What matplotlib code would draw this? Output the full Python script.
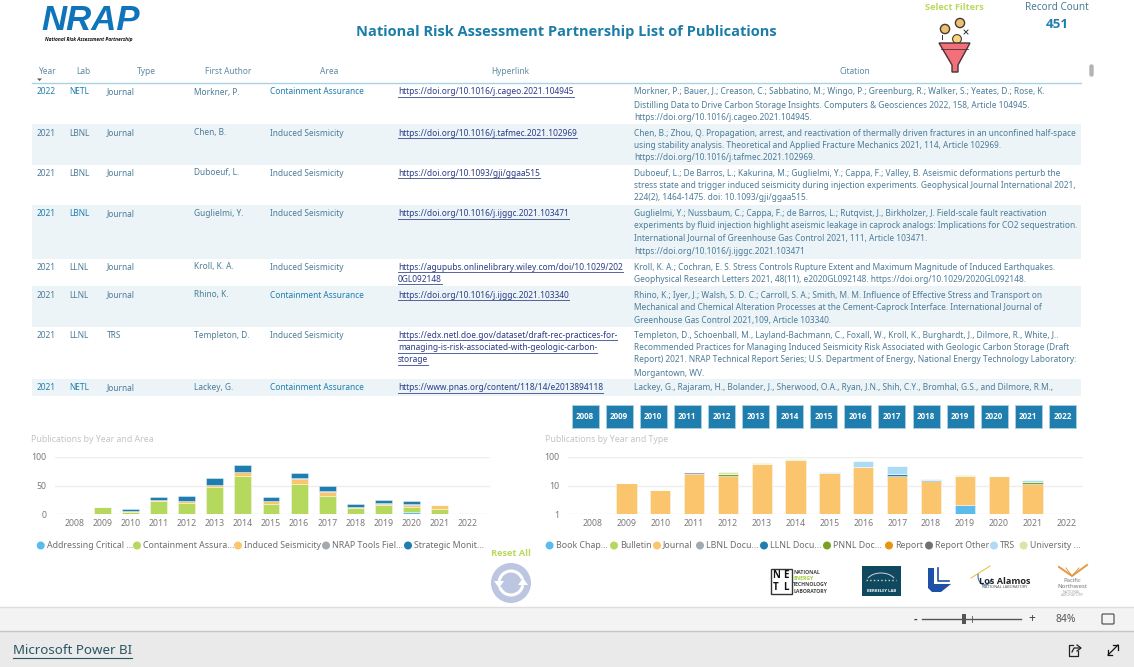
import numpy as np
import matplotlib
matplotlib.use("Agg")
import matplotlib.pyplot as plt
from matplotlib.patches import Rectangle, Circle, Polygon, FancyBboxPatch, Arc

W = 1134
H = 667
plt.rcParams['font.family'] = ['Noto Sans', 'DejaVu Sans']

# table contents
headers = ["Year", "Lab", "Type", "First Author", "Area", "Hyperlink", "Citation"]
years_col = ["2022", "2021", "2021", "2021", "2021", "2021", "2021", "2021"]
labs = ["NETL", "LBNL", "LBNL", "LBNL", "LLNL", "LLNL", "LLNL", "NETL"]
types = ["Journal", "Journal", "Journal", "Journal", "Journal", "Journal", "TRS", "Journal"]
authors = ["Morkner, P.", "Chen, B.", "Duboeuf, L.", "Guglielmi, Y.", "Kroll, K. A.",
           "Rhino, K.", "Templeton, D.", "Lackey, G."]
areas = ["Containment Assurance", "Induced Seismicity", "Induced Seismicity", "Induced Seismicity",
         "Induced Seismicity", "Containment Assurance", "Induced Seismicity", "Containment Assurance"]
links = [
    ["https://doi.org/10.1016/j.cageo.2021.104945"],
    ["https://doi.org/10.1016/j.tafmec.2021.102969"],
    ["https://doi.org/10.1093/gji/ggaa515"],
    ["https://doi.org/10.1016/j.ijggc.2021.103471"],
    ["https://agupubs.onlinelibrary.wiley.com/doi/10.1029/202", "0GL092148"],
    ["https://doi.org/10.1016/j.ijggc.2021.103340"],
    ["https://edx.netl.doe.gov/dataset/draft-rec-practices-for-",
     "managing-is-risk-associated-with-geologic-carbon-", "storage"],
    ["https://www.pnas.org/content/118/14/e2013894118"],
]
citations = [
    ["Morkner, P.; Bauer, J.; Creason, C.; Sabbatino, M.; Wingo, P.; Greenburg, R.; Walker, S.; Yeates, D.; Rose, K.",
     "Distilling Data to Drive Carbon Storage Insights. Computers & Geosciences 2022, 158, Article 104945.",
     "https://doi.org/10.1016/j.cageo.2021.104945."],
    ["Chen, B.; Zhou, Q. Propagation, arrest, and reactivation of thermally driven fractures in an unconfined half-space",
     "using stability analysis. Theoretical and Applied Fracture Mechanics 2021, 114, Article 102969.",
     "https://doi.org/10.1016/j.tafmec.2021.102969."],
    ["Duboeuf, L.; De Barros, L.; Kakurina, M.; Guglielmi, Y.; Cappa, F.; Valley, B. Aseismic deformations perturb the",
     "stress state and trigger induced seismicity during injection experiments. Geophysical Journal International 2021,",
     "224(2), 1464-1475. doi: 10.1093/gji/ggaa515."],
    ["Guglielmi, Y.; Nussbaum, C.; Cappa, F.; de Barros, L.; Rutqvist, J., Birkholzer, J. Field-scale fault reactivation",
     "experiments by fluid injection highlight aseismic leakage in caprock analogs: Implications for CO2 sequestration.",
     "International Journal of Greenhouse Gas Control 2021, 111, Article 103471.",
     "https://doi.org/10.1016/j.ijggc.2021.103471"],
    ["Kroll, K. A.; Cochran, E. S. Stress Controls Rupture Extent and Maximum Magnitude of Induced Earthquakes.",
     "Geophysical Research Letters 2021, 48(11), e2020GL092148. https://doi.org/10.1029/2020GL092148."],
    ["Rhino, K.; Iyer, J.; Walsh, S. D. C.; Carroll, S. A.; Smith, M. M. Influence of Effective Stress and Transport on",
     "Mechanical and Chemical Alteration Processes at the Cement-Caprock Interface. International Journal of",
     "Greenhouse Gas Control 2021,109, Article 103340."],
    ["Templeton, D., Schoenball, M., Layland-Bachmann, C., Foxall, W., Kroll, K., Burghardt, J., Dilmore, R., White, J..",
     "Recommended Practices for Managing Induced Seismicity Risk Associated with Geologic Carbon Storage (Draft",
     "Report) 2021. NRAP Technical Report Series; U.S. Department of Energy, National Energy Technology Laboratory:",
     "Morgantown, WV."],
    ["Lackey, G., Rajaram, H., Bolander, J., Sherwood, O.A., Ryan, J.N., Shih, C.Y., Bromhal, G.S., and Dilmore, R.M.,"],
]

# chart data
years = ["2008", "2009", "2010", "2011", "2012", "2013", "2014", "2015",
         "2016", "2017", "2018", "2019", "2020", "2021", "2022"]

area_names = ["Addressing Critical ...", "Containment Assura...", "Induced Seismicity",
              "NRAP Tools Fiel...", "Strategic Monit..."]
addressing = [0, 0, 0, 0, 0, 0, 0, 0, 0, 0, 0, 0, 3, 0, 0]
containment = [1, 12, 4, 22, 20, 48, 66, 18, 52, 31, 11, 16, 10, 9, 1]
induced = [0, 0, 1, 3, 3, 3, 8, 4, 9, 8, 1, 2, 3, 7, 0]
nrap_tools = [0, 0, 0, 0, 0, 0, 0, 0, 2, 1, 0, 1, 1, 0, 0]
strategic = [0, 0, 3, 5, 8, 12, 12, 8, 9, 9, 5, 5, 6, 0, 0]
area_series = [addressing, containment, induced, nrap_tools, strategic]
area_colors = ["#5BBCEB", "#B5D95C", "#FBC56D", "#A0AAB0", "#1F7EAD"]

type_names = ["Book Chap...", "Bulletin", "Journal", "LBNL Docu...", "LLNL Docu...",
              "PNNL Doc...", "Report", "Report Other", "TRS", "University ..."]
book = [0, 0, 0, 0, 0, 0, 0, 0, 0, 0, 0, 2, 0, 0, 0]
bulletin = [0] * 15
journal = [1, 12, 7, 25, 22, 57, 76, 27, 43, 22, 14, 20, 21, 11, 1]
lbnl_doc = [0, 0, 0, 4, 0, 0, 0, 0, 0, 0, 0, 0, 0, 0, 0]
llnl_doc = [0, 0, 0, 0, 0, 0, 0, 0, 0, 3, 2, 0, 0, 0, 0]
pnnl_doc = [0, 0, 0, 0, 3, 0, 0, 0, 2, 0, 0, 0, 0, 2, 0]
report = [0] * 15
report_other = [0] * 15
trs = [0, 0, 0, 0, 0, 0, 0, 2, 25, 23, 1, 0, 0, 3, 0]
university = [0, 0, 0, 1, 4, 5, 8, 0, 0, 0, 0, 2, 1, 0, 0]
type_series = [book, bulletin, journal, lbnl_doc, llnl_doc, pnnl_doc, report, report_other, trs, university]
type_colors = ["#5BBCEB", "#B5D95C", "#FBC56D", "#A0AAB0", "#1F7EAD",
               "#78A022", "#E5960F", "#6B7378", "#ADDBF3", "#D5E8A6"]

# layout, in reference pixels
row_edges = [83, 124, 165, 205, 259, 286, 327, 379, 396]
first_lines = [92, 133, 173, 214, 267, 295, 335, 388]
citation_lines = [[92, 105, 118], [133, 145, 158], [173, 186, 198], [214, 226, 239, 252],
                  [267, 279], [295, 307, 320], [335, 348, 360, 373], [388]]
link_lines = [[92], [133], [173], [214], [267, 279], [295], [335, 348, 360], [388]]
cell_x = [37, 69, 107, 194, 270, 398, 634]
header_x = [48, 83, 146, 228, 329, 510, 855]

TEXT = "#4C7C98"
BLUE = "#1F7EAD"
LINK = "#2A3C86"
TICK = "#7A7A7A"
CELL_SIZE = 6.0

fig = plt.figure(figsize=(W / 100, H / 100), dpi=100, facecolor="white")
bg = fig.add_axes([0, 0, 1, 1])
bg.set_xlim(0, W)
bg.set_ylim(H, 0)
bg.axis("off")


def txt(x, y, s, size=CELL_SIZE, color=TEXT, ha="left", **kw):
    # Noto Sans has no bold face here, Open Sans does
    if kw.get("fontweight") == "bold":
        kw["family"] = ["Open Sans", "DejaVu Sans"]
    return bg.text(x, y, s, fontsize=size, color=color, ha=ha, va="center", **kw)


def box(x0, y0, x1, y1, color, **kw):
    bg.add_patch(Rectangle((x0, y0), x1 - x0, y1 - y0, facecolor=color, edgecolor="none", **kw))


# top strip
bg.text(91, 20, "NRAP", fontsize=25, color="#0F74BA", ha="center", va="center",
        fontweight="bold", style="italic", family="Liberation Sans")
bg.plot([47, 72, 100, 122], [27, 13, 24, 34], color="white", lw=1.2)
txt(89, 39, "National Risk Assessment Partnership", size=3.5, color="#111111", ha="center",
    fontweight="bold", style="italic")
txt(566, 32, "National Risk Assessment Partnership List of Publications", size=10.55, color="#1C7DA8",
    ha="center", fontweight="bold")
txt(954, 8, "Select Filters", size=6.7, color="#B9D95F", ha="center", fontweight="bold")
txt(1057, 8, "Record Count", size=7.2, color="#4C7C98", ha="center")
txt(1057, 25, "451", size=9.6, color=BLUE, ha="center", fontweight="bold")

# funnel icon
bg.add_patch(Circle((945, 29), 4.6, facecolor="#E8C172", edgecolor="#4A3A30", lw=1))
bg.add_patch(Circle((960, 23), 4.6, facecolor="#E8C172", edgecolor="#4A3A30", lw=1))
bg.add_patch(Circle((957, 39), 4.4, facecolor="#F8D77E", edgecolor="#4A3A30", lw=0.8))
bg.add_patch(Polygon([(939, 43), (970, 43), (958, 65), (958, 72), (952, 72), (952, 65)],
                     facecolor="#F2707A", edgecolor="#4A3038", lw=1))
bg.plot([941, 968], [49, 49], color="#4A3038", lw=0.6)
bg.plot([942, 942], [35, 39], color="#333333", lw=0.7)
bg.plot([964, 968], [30, 34], color="#333333", lw=0.7)
bg.plot([968, 964], [30, 34], color="#333333", lw=0.7)

# table
for i in range(len(row_edges) - 1):
    if i % 2 == 1:
        box(32, row_edges[i], 1081, row_edges[i + 1], "#ECF4F8")
bg.plot([32, 1081], [83, 83], color="#A9D2E4", lw=1)
for name, x in zip(headers, header_x):
    txt(x, 71, name, color="#5F8AA3", ha="center")
bg.add_patch(Polygon([(37, 78.5), (42, 78.5), (39.5, 81)], facecolor="#555555", edgecolor="none"))
bg.add_patch(FancyBboxPatch((1090, 65), 3, 11, boxstyle="round,pad=0,rounding_size=1.5",
                            facecolor="#B4B4B4", edgecolor="#B4B4B4", lw=1))

underlines = []
for i in range(8):
    y = first_lines[i]
    year_color = BLUE if years_col[i] == "2022" or labs[i] == "LBNL" and authors[i].startswith("Gug") \
        or labs[i] == "NETL" else TEXT
    txt(cell_x[0], y, years_col[i], color=year_color)
    txt(cell_x[1], y, labs[i], color=year_color)
    txt(cell_x[2], y, types[i])
    txt(cell_x[3], y, authors[i])
    txt(cell_x[4], y, areas[i], color=BLUE if areas[i].startswith("Cont") else TEXT)
    for line, ly in zip(links[i], link_lines[i]):
        underlines.append((txt(cell_x[5], ly, line, color=LINK), ly))
    for line, ly in zip(citations[i], citation_lines[i]):
        txt(cell_x[6], ly, line)

# underline the links to the width of the text as drawn
renderer = fig.canvas.get_renderer()
for t, ly in underlines:
    ext = t.get_window_extent(renderer)
    bg.plot([ext.x0, ext.x1], [ly + 5, ly + 5], color=LINK, lw=0.7, alpha=0.8)

# year slicer
for i, yr in enumerate(years):
    cx = 585 + i * 34.1
    bg.add_patch(Rectangle((cx - 13.5, 405), 27, 23, facecolor=BLUE, edgecolor="#A8CFE0", lw=0.7))
    txt(cx, 416.5, yr, size=5.8, color="white", ha="center", fontweight="bold")

# chart titles
txt(31, 439, "Publications by Year and Area", size=6.3, color="#C4C4C4")
txt(545, 439, "Publications by Year and Type", size=6.3, color="#C4C4C4")


def make_chart(x0, x1, series, colors, first_x, step):
    ax = fig.add_axes([x0 / W, 1 - 514 / H, (x1 - x0) / W, 57 / H])
    ax.patch.set_alpha(0)
    pos = np.arange(len(years))
    ax.set_xlim((x0 - first_x) / step, (x1 - first_x) / step)
    bottom = np.zeros(len(years))
    for vals, col in zip(series, colors):
        vals = np.array(vals, dtype=float)
        ax.bar(pos, vals, 0.6, bottom=bottom, color=col, edgecolor=(1, 1, 1, 0.45), linewidth=0.6, zorder=3)
        bottom = bottom + vals
    for s in ax.spines.values():
        s.set_visible(False)
    ax.set_xticks(pos)
    ax.set_xticklabels(years)
    ax.tick_params(axis="both", length=0, labelsize=6.3, labelcolor=TICK)
    ax.tick_params(axis="x", pad=3.5)
    ax.tick_params(axis="y", pad=6)
    ax.grid(axis="y", color="#EEEEEE", lw=1, zorder=0)
    return ax


ax1 = make_chart(55, 490, area_series, area_colors, 74.3, 28.1)
ax1.set_ylim(0, 100)
ax1.set_yticks([0, 50, 100])

ax2 = make_chart(568, 1083, type_series, type_colors, 592.5, 33.85)
ax2.set_yscale("log")
ax2.set_ylim(1, 100)
ax2.set_yticks([1, 10, 100])
ax2.set_yticklabels(["1", "10", "100"])
ax2.minorticks_off()

# legends
area_dots = [40.7, 137, 238, 326, 408]
type_dots = [549.6, 614, 657, 700, 764, 827, 889, 929, 994, 1023.6]
for x, name, col in zip(area_dots, area_names, area_colors):
    bg.add_patch(Circle((x, 545.5), 4, facecolor=col, edgecolor="none"))
    txt(x + 6, 545, name, size=6.3, color="#6E6E6E")
for x, name, col in zip(type_dots, type_names, type_colors):
    bg.add_patch(Circle((x, 545.5), 4, facecolor=col, edgecolor="none"))
    txt(x + 6, 545, name, size=6.3, color="#6E6E6E")

# reset button
txt(511, 554, "Reset All", size=6.7, color="#B9D95F", ha="center", fontweight="bold")
bg.add_patch(Circle((511, 583), 20, facecolor="#BCC6E0", edgecolor="none"))
bg.add_patch(Arc((511, 583), 24, 24, theta1=190, theta2=340, color="white", lw=2.2))
bg.add_patch(Arc((511, 583), 24, 24, theta1=10, theta2=160, color="white", lw=2.2))
bg.add_patch(Polygon([(494, 581), (504, 581), (499, 588)], facecolor="white", edgecolor="none"))
bg.add_patch(Polygon([(518, 585), (528, 585), (523, 578)], facecolor="white", edgecolor="none"))

# partner logos
bg.add_patch(Rectangle((770.5, 569), 21, 25, facecolor="white", edgecolor="#333333", lw=1))
txt(776, 575.5, "N", size=7, color="#111111", ha="center", fontweight="bold")
txt(786, 575.5, "E", size=7, color="#111111", ha="center", fontweight="bold")
txt(776, 587, "T", size=7, color="#111111", ha="center", fontweight="bold")
txt(786, 587, "L", size=7, color="#111111", ha="center", fontweight="bold")
for i, (word, col) in enumerate(zip(["NATIONAL", "ENERGY", "TECHNOLOGY", "LABORATORY"],
                                    ["#444444", "#9CCB3B", "#444444", "#444444"])):
    txt(793, 572.5 + i * 6.2, word, size=3.7, color=col, fontweight="bold")

box(862, 566, 901, 596, "#10485F")
bg.add_patch(Arc((881, 583), 30, 20, theta1=200, theta2=340, color="#C9D8DE", lw=0.7))
bg.plot([866, 896], [580, 580], color="#C9D8DE", lw=1, ls=":")
txt(881.5, 591, "BERKELEY LAB", size=3, color="white", ha="center", fontweight="bold")

bg.add_patch(Polygon([(928, 568), (934, 568), (934, 584), (951, 584), (941, 592), (932, 592), (928, 588)],
                     facecolor="#1E50A8", edgecolor="none"))
bg.plot([938, 938, 949], [568, 581, 581], color="#1E50A8", lw=1.2)

bg.add_patch(Arc((985, 576), 14, 18, theta1=20, theta2=200, color="#2E70B8", lw=0.8))
bg.plot([971, 990], [578, 566], color="#E8B93C", lw=0.7)
txt(1005, 581, "Los Alamos", size=6.6, color="#222222", ha="center", fontweight="bold")
txt(1005, 587.5, "NATIONAL LABORATORY", size=2.8, color="#555555", ha="center")

bg.plot([1059, 1072, 1087], [567, 576, 565], color="#E39A45", lw=1.4)
bg.plot([1066, 1072, 1079], [568, 576, 568], color="#E39A45", lw=0.7)
txt(1072, 580, "Pacific", size=4.3, color="#777777", ha="center")
txt(1072, 586, "Northwest", size=4.3, color="#777777", ha="center")
txt(1072, 592, "NATIONAL", size=2.6, color="#AAAAAA", ha="center")
txt(1072, 595, "LABORATORY", size=2.6, color="#AAAAAA", ha="center")

# viewer chrome
box(0, 607, W, 631, "#F3F3F3")
box(0, 631, W, H, "#EAEAEA")
bg.plot([0, W], [607, 607], color="#DEDEDE", lw=1)
bg.plot([0, W], [631, 631], color="#C6C6C6", lw=1)
bg.plot([922, 1021], [619, 619], color="#555555", lw=1)
box(962, 614, 966, 624, "#555555")
bg.plot([972, 972], [616, 622], color="#555555", lw=0.6)
txt(915, 619, "-", size=8, color="#444444", ha="center", fontweight="bold")
txt(1032, 618.5, "+", size=8.5, color="#444444", ha="center")
txt(1066, 619, "84%", size=7.4, color="#555555", ha="center")
# fit to page icon
bg.add_patch(FancyBboxPatch((1102, 614), 12, 10, boxstyle="round,pad=0,rounding_size=1",
                            facecolor="none", edgecolor="#444444", lw=0.8))
t = txt(13, 651, "Microsoft Power BI", size=9.6, color="#2B5566")
ext = t.get_window_extent(renderer)
bg.plot([ext.x0, ext.x1], [658, 658], color="#2B5566", lw=0.8)

# share icon
bg.plot([1078, 1078, 1069, 1069, 1073], [651, 656, 656, 645, 645], color="#222222", lw=0.9)
bg.plot([1072, 1074, 1080], [652, 648, 648], color="#222222", lw=0.9)
bg.plot([1077, 1081, 1077], [645, 648, 651], color="#222222", lw=0.9)
# expand icon
bg.plot([1108, 1118], [655, 645], color="#111111", lw=0.9)
bg.plot([1108, 1108, 1112], [650, 655, 655], color="#111111", lw=0.9)
bg.plot([1113, 1118, 1118], [645, 645, 650], color="#111111", lw=0.9)

fig.savefig("out.png", dpi=100)
